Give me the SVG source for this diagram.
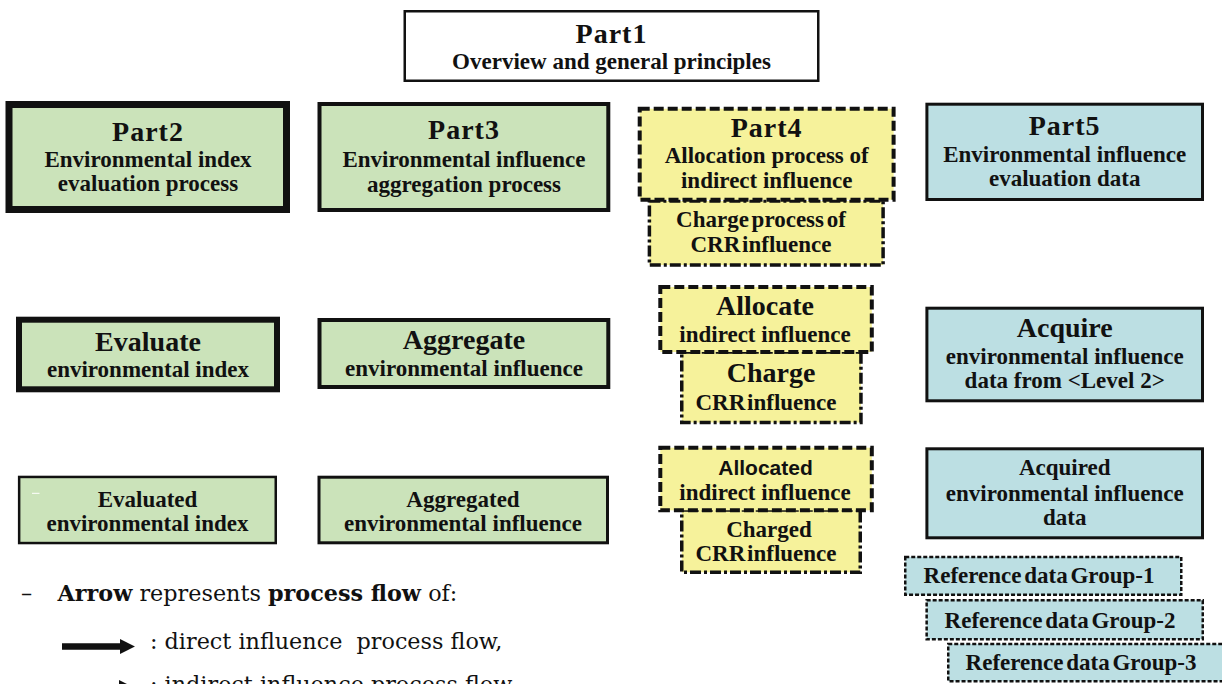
<svg xmlns="http://www.w3.org/2000/svg" width="1222" height="684" viewBox="0 0 1222 684">
<defs>
<style>
.t{font-family:"Liberation Serif","Times New Roman",serif;font-weight:bold;fill:#111;text-anchor:middle}
.h{font-size:28px;letter-spacing:1px}
.s{font-size:23px}
.r{font-size:23px;word-spacing:-3px}
.sans{font-family:"Liberation Sans",Arial,sans-serif;font-weight:bold;font-size:21px;fill:#111;text-anchor:middle}
.g{fill:#CBE3BA;stroke:#111}
.y{fill:#F6F29B;stroke:#111}
.b{fill:#BCDFE3;stroke:#111}
.dash{stroke-width:4;stroke-dasharray:10 4}
.dd{stroke-width:3.5;stroke-dasharray:11 3 3 3}
.dot{stroke-width:2.5;stroke-dasharray:4 2}
.lg{font-family:"DejaVu Serif",serif;font-size:22.3px;fill:#111}
</style>
<marker id="ah" viewBox="0 0 10 10" refX="0" refY="5" markerWidth="2.3" markerHeight="2.6" orient="auto" markerUnits="strokeWidth">
<path d="M0,0 L10,5 L0,10 Z" fill="#111"/>
</marker>
</defs>
<rect width="1222" height="684" fill="#fff"/>

<g id="part1">
<rect x="404.75" y="11.25" width="413.5" height="69.5" fill="#fff" stroke="#111" stroke-width="2.5"/>
<text class="t h" x="611.5" y="43">Part1</text>
<text class="t s" x="611.5" y="69">Overview and general principles</text>
</g>

<g id="part2">
<rect class="g" x="9" y="104.5" width="277.5" height="105" stroke-width="7"/>
<text class="t h" x="148" y="141">Part2</text>
<text class="t s" x="148" y="167">Environmental index</text>
<text class="t s" x="148" y="191">evaluation process</text>
</g>

<g id="part3">
<rect class="g" x="319.5" y="104" width="288.8" height="106" stroke-width="4"/>
<text class="t h" x="464" y="139">Part3</text>
<text class="t s" x="464" y="167">Environmental influence</text>
<text class="t s" x="464" y="192">aggregation process</text>
</g>

<g id="part4-charge">
<rect class="y dd" x="649.4" y="201" width="233.7" height="64"/>
<text class="t s" x="761" y="227" style="word-spacing:-3px">Charge process of</text>
<text class="t s" x="761" y="252" style="word-spacing:-4px">CRR influence</text>
</g>

<g id="part4">
<rect class="y dash" x="639.7" y="108.7" width="253.9" height="91"/>
<text class="t h" x="766.7" y="137">Part4</text>
<text class="t s" x="766.7" y="163">Allocation process of</text>
<text class="t s" x="766.7" y="188">indirect influence</text>
</g>

<g id="part5">
<rect class="b" x="926.9" y="104.2" width="275.6" height="95.3" stroke-width="3"/>
<text class="t h" x="1064.7" y="135">Part5</text>
<text class="t s" x="1064.7" y="162">Environmental influence</text>
<text class="t s" x="1064.7" y="186">evaluation data</text>
</g>

<g id="evaluate">
<rect class="g" x="19" y="319.7" width="258" height="69.6" stroke-width="6"/>
<text class="t h" x="148" y="350.7" style="letter-spacing:0">Evaluate</text>
<text class="t s" x="148" y="376.7">environmental index</text>
</g>

<g id="aggregate">
<rect class="g" x="319.5" y="320" width="288.8" height="67" stroke-width="4"/>
<text class="t h" x="464" y="349" style="letter-spacing:0">Aggregate</text>
<text class="t s" x="464" y="376">environmental influence</text>
</g>

<g id="charge">
<rect class="y dd" x="681.75" y="352" width="179.2" height="70.5"/>
<text class="t h" x="771" y="381.7" style="letter-spacing:0">Charge</text>
<text class="t s" x="766" y="410" style="word-spacing:-4px">CRR influence</text>
</g>

<g id="allocate">
<rect class="y dash" x="660.3" y="287" width="211.5" height="65"/>
<text class="t h" x="765" y="315" style="letter-spacing:0">Allocate</text>
<text class="t s" x="765" y="341.7">indirect influence</text>
</g>

<g id="acquire">
<rect class="b" x="926.9" y="308.2" width="275.6" height="92.6" stroke-width="3"/>
<text class="t h" x="1064.7" y="336.7" style="letter-spacing:0">Acquire</text>
<text class="t s" x="1064.7" y="364">environmental influence</text>
<text class="t s" x="1064.7" y="388.3">data from &lt;Level 2&gt;</text>
</g>

<g id="evaluated">
<rect class="g" x="19.15" y="476.95" width="256.6" height="66.1" stroke-width="2.5"/>
<line x1="32" y1="493.3" x2="39.5" y2="493.3" stroke="#fff" stroke-width="1"/>
<text class="t s" x="147.5" y="506.7">Evaluated</text>
<text class="t s" x="147.5" y="530.7">environmental index</text>
</g>

<g id="aggregated">
<rect class="g" x="319" y="477.2" width="288.5" height="65.6" stroke-width="3"/>
<text class="t s" x="463" y="506.7">Aggregated</text>
<text class="t s" x="463" y="530.7">environmental influence</text>
</g>

<g id="charged">
<rect class="y dd" x="681.75" y="510" width="178.5" height="62.25"/>
<text class="t s" x="769" y="536.7">Charged</text>
<text class="t s" x="766" y="561" style="word-spacing:-4px">CRR influence</text>
</g>

<g id="allocated">
<rect class="y dash" x="660.3" y="447.7" width="211.5" height="62.6"/>
<text class="sans" x="765.5" y="475">Allocated</text>
<text class="t s" x="765" y="500">indirect influence</text>
</g>

<g id="acquired">
<rect class="b" x="926.9" y="448.8" width="275.6" height="89" stroke-width="3"/>
<text class="t s" x="1064.7" y="475">Acquired</text>
<text class="t s" x="1064.7" y="500.7">environmental influence</text>
<text class="t s" x="1064.7" y="525">data</text>
</g>

<g id="ref-group-1">
<rect class="b dot" x="905.25" y="556.95" width="276" height="37.8"/>
<text class="t r" x="1039" y="583.3">Reference data Group-1</text>
</g>

<g id="ref-group-2">
<rect class="b dot" x="926.65" y="600.25" width="276.1" height="39"/>
<text class="t r" x="1060" y="628.3">Reference data Group-2</text>
</g>

<g id="ref-group-3">
<rect class="b dot" x="948.25" y="643.95" width="290" height="37.3"/>
<text class="t r" x="1081" y="670">Reference data Group-3</text>
</g>

<g id="connectors">
<line x1="62" y1="646.5" x2="120" y2="646.5" stroke="#111" stroke-width="6.5" marker-end="url(#ah)"/>
<line x1="62" y1="687.5" x2="119" y2="687.5" stroke="#111" stroke-width="6.5" stroke-dasharray="6 4" marker-end="url(#ah)"/>
</g>

<g id="legend">
<text class="lg" x="21" y="600.5">–</text>
<text class="lg" x="57.5" y="600.5"><tspan font-weight="bold">Arrow</tspan> represents <tspan font-weight="bold">process flow</tspan> of:</text>
<text class="lg" x="150" y="649" xml:space="preserve">: direct influence  process flow,</text>
<text class="lg" x="150" y="692" xml:space="preserve">: indirect influence process flow,</text>
</g>
</svg>
